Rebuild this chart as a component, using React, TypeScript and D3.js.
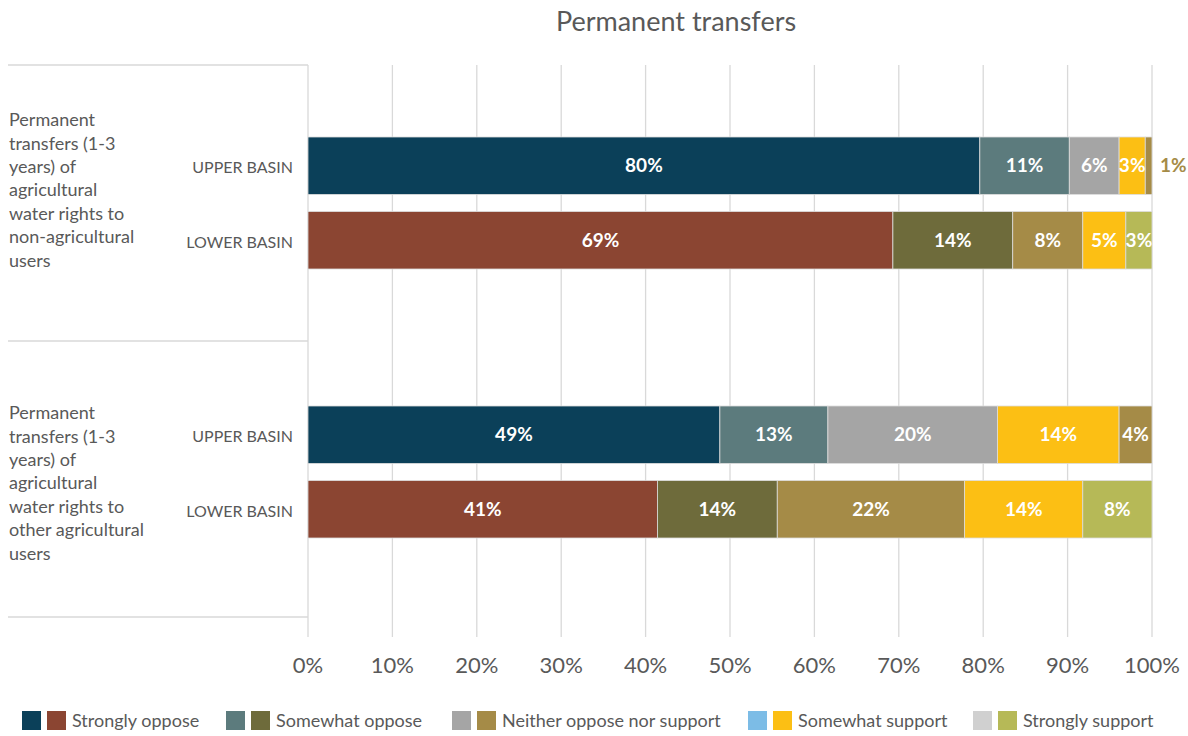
import React from 'react'
import * as d3 from 'd3'

// response categories, in stacking order
const responses = [
  'Strongly oppose',
  'Somewhat oppose',
  'Neither oppose nor support',
  'Somewhat support',
  'Strongly support'
]

const basins = ['UPPER BASIN', 'LOWER BASIN']

const groupLabels = [
  ['Permanent', 'transfers (1-3', 'years) of', 'agricultural', 'water rights to', 'non-agricultural', 'users'],
  ['Permanent', 'transfers (1-3', 'years) of', 'agricultural', 'water rights to', 'other agricultural', 'users']
]

// shares (%), per group, per basin
const nonAgUpper = [79.6, 10.6, 5.9, 3.1, 0.8]
const nonAgLower = [69.3, 14.2, 8.3, 5.1, 3.1]
const otherAgUpper = [48.8, 12.8, 20.1, 14.4, 3.9]
const otherAgLower = [41.4, 14.2, 22.2, 14.0, 8.2]

const groupValues = [
  [nonAgUpper, nonAgLower],
  [otherAgUpper, otherAgLower]
]

// bar colours as drawn (upper basin bars reuse the yellow / gold pair at the end)
const upperBarColors = ['#0b4059', '#5c7b7d', '#a5a5a5', '#fcbf14', '#a58b47']
const lowerBarColors = ['#8b4532', '#6e6b3b', '#a58b47', '#fcbf14', '#b6b957']

// legend swatch pairs
const legendUpper = ['#0b4059', '#5c7b7d', '#a5a5a5', '#7cbce6', '#d0d0d0']
const legendLower = ['#8b4532', '#6e6b3b', '#a58b47', '#fcbf14', '#b6b957']

const ticks = d3.range(0, 101, 10)

const W = 1188
const H = 736
const FONT = 'Lato, "Noto Sans", sans-serif'
const TEXT = '#595959'
const GRID = '#d9d9d9'

const App = () => {
  const x = d3.scaleLinear().domain([0, 100]).range([308, 1152])

  // frame of the category axis (separator lines)
  const frame = d3.scaleLinear().domain([0, groupLabels.length]).range([65, 617])
  // group bands and basin bars inside each band
  const group = d3.scaleBand<number>().domain(d3.range(groupLabels.length)).range([68.5, 606.5])
  const bar = d3.scaleBand<string>().domain(basins).range([68.5, 200.5]).paddingInner(0.23)
  // the wrapped group labels don't sit quite centred on their bars
  const labelShift = [-13, 11]

  const stack = (vals: number[]) => {
    const cum = d3.cumsum(vals)
    return vals.map((v, i) => ({ v, x0: cum[i] - v, x1: cum[i] }))
  }

  return (
    <svg width={W} height={H} style={{ position: 'absolute', left: 0, top: 0, fontFamily: FONT }}>
      <rect width={W} height={H} fill="#fff" />
      <text x={676} y={31} textAnchor="middle" fontSize={27} fill={TEXT}>
        Permanent transfers
      </text>

      {/* gridlines */}
      {ticks.map(t => (
        <line key={t} x1={x(t)} x2={x(t)} y1={frame(0)} y2={637} stroke={GRID} strokeWidth={1.3} />
      ))}

      {/* category separators */}
      {d3.range(groupLabels.length + 1).map(i => (
        <line key={i} x1={8} x2={x(0)} y1={frame(i)} y2={frame(i)} stroke={GRID} strokeWidth={1.3} />
      ))}

      {/* tick labels */}
      {ticks.map(t => (
        <text key={t} x={x(t)} y={673} textAnchor="middle" fontSize={22} fill={TEXT}>
          {t}%
        </text>
      ))}

      {groupLabels.map((lines, gi) => {
        const gy = group(gi)!
        const cy = gy + (bar('UPPER BASIN')! + bar('LOWER BASIN')! + bar.bandwidth()) / 2 + labelShift[gi]
        const lh = 23.4
        const top = cy - ((lines.length - 1) * lh) / 2
        return (
          <g key={gi}>
            {lines.map((l, li) => (
              <text key={li} x={9} y={top + li * lh} dy="0.35em" fontSize={18} fill={TEXT}>
                {l}
              </text>
            ))}
            {basins.map((b, bi) => {
              const by = gy + bar(b)!
              const colors = bi === 0 ? upperBarColors : lowerBarColors
              const segs = stack(groupValues[gi][bi])
              return (
                <g key={b}>
                  <text x={293} y={by + bar.bandwidth() / 2 + 2} dy="0.35em" textAnchor="end" fontSize={16} fill={TEXT}>
                    {b}
                  </text>
                  {segs.map((s, si) => (
                    <rect
                      key={si}
                      x={x(s.x0)}
                      y={by}
                      width={x(s.x1) - x(s.x0)}
                      height={bar.bandwidth()}
                      fill={colors[si]}
                      stroke="#dcdcdc"
                      strokeWidth={0.8}
                    />
                  ))}
                  {segs.map((s, si) => {
                    const w = x(s.x1) - x(s.x0)
                    const inside = w > 18
                    return (
                      <text
                        key={si}
                        x={inside ? (x(s.x0) + x(s.x1)) / 2 : x(s.x1) + 8}
                        y={by + bar.bandwidth() / 2}
                        dy="0.35em"
                        textAnchor={inside ? 'middle' : 'start'}
                        fontSize={19}
                        fontWeight="bold"
                        fill={inside ? '#fff' : colors[si]}
                      >
                        {Math.round(s.v)}%
                      </text>
                    )
                  })}
                </g>
              )
            })}
          </g>
        )
      })}

      {/* legend */}
      {(() => {
        const starts = [22, 226, 452, 748, 973]
        return responses.map((r, i) => (
          <g key={r} transform={`translate(${starts[i]},711)`}>
            <rect width={19} height={19} fill={legendUpper[i]} />
            <rect x={25} width={19} height={19} fill={legendLower[i]} />
            <text x={50} y={10} dy="0.35em" fontSize={18} fill={TEXT}>
              {r}
            </text>
          </g>
        ))
      })()}
    </svg>
  )
}

export default App
